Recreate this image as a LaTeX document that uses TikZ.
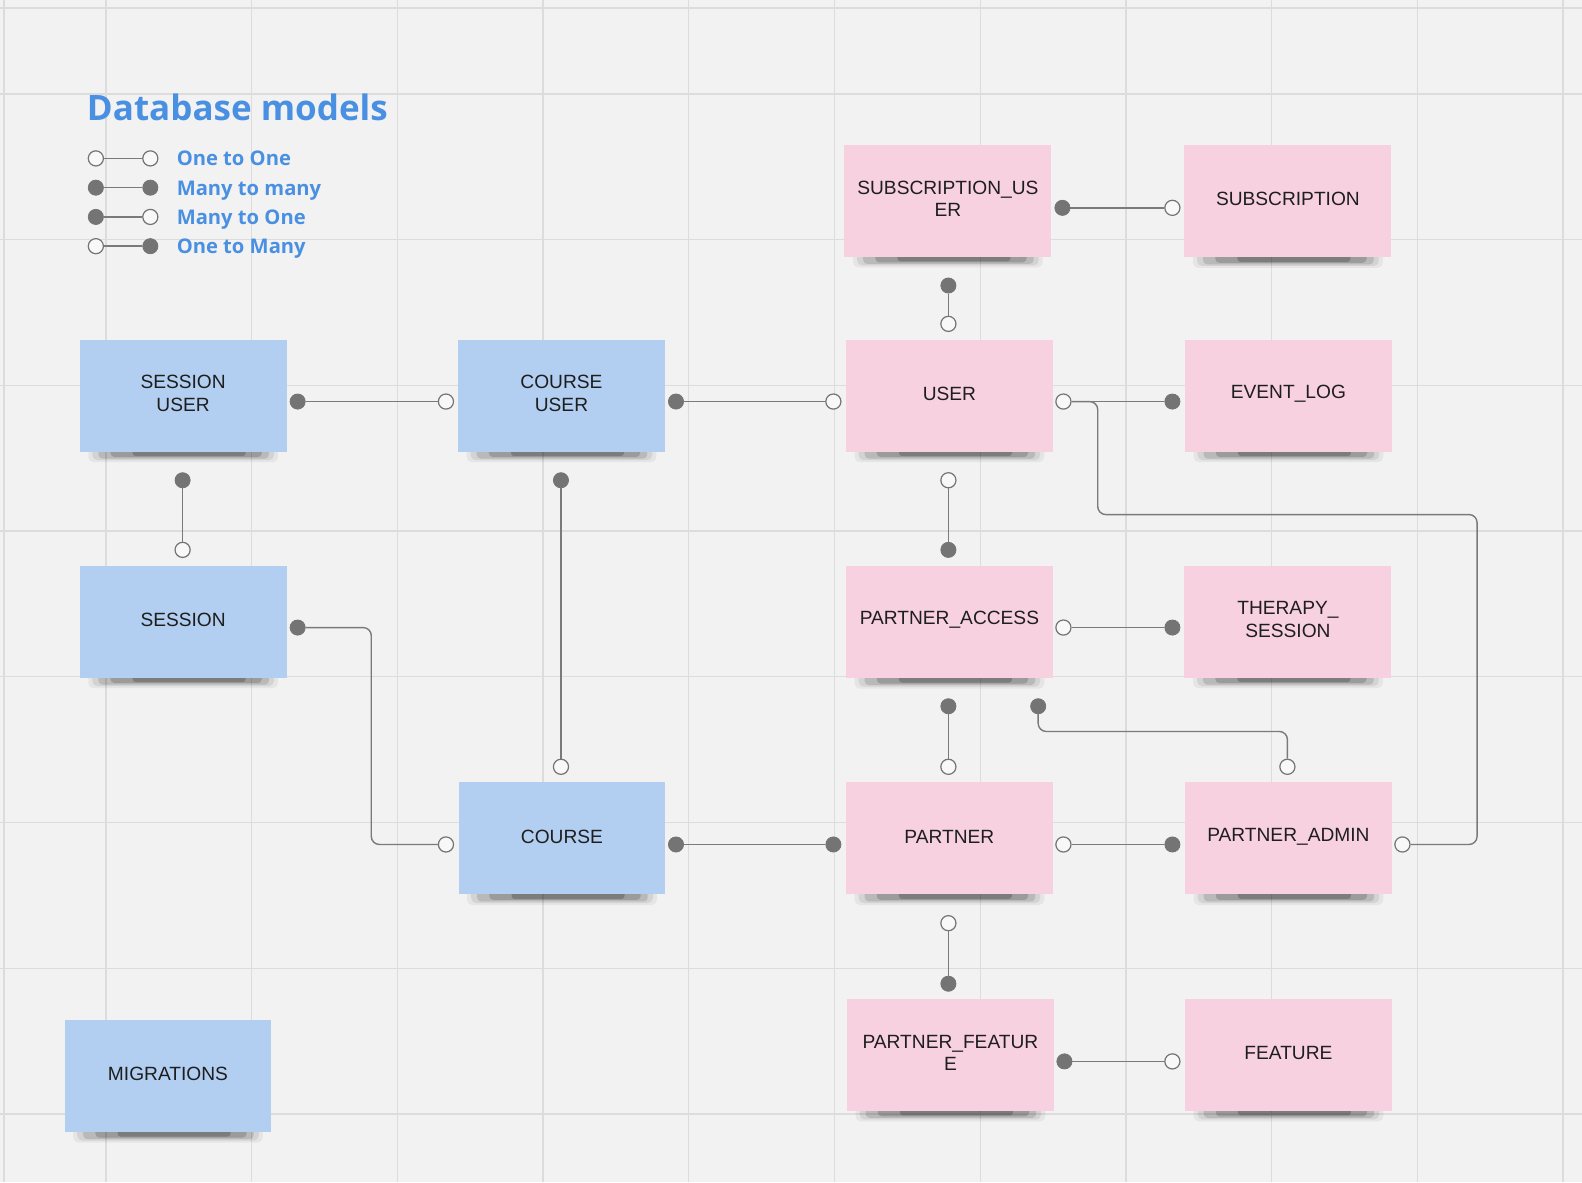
\documentclass[tikz,border=0pt]{standalone}
\usepackage{fontspec}
\setmainfont{Liberation Sans}
\newfontfamily\osfont{Open Sans}
\definecolor{bg}{HTML}{F2F2F2}
\definecolor{gridc}{HTML}{DCDCDC}
\definecolor{bluenote}{HTML}{B2CEF1}
\definecolor{pinknote}{HTML}{F7D1DF}
\definecolor{dotc}{HTML}{747474}
\definecolor{linec}{HTML}{7A7A7A}
\definecolor{titleblue}{HTML}{4A90E2}
\definecolor{notetext}{HTML}{1E1E1E}
\tikzset{
  note/.style={minimum width=205, minimum height=111, inner sep=0, draw=none},
  notetxt/.style={font=\fontsize{19}{22}\selectfont, align=center, text=notetext, inner sep=0},
  fd/.style={circle, fill=dotc, draw=dotc, line width=0.8, inner sep=0, minimum size=15},
  od/.style={circle, fill=white!50!bg, draw=dotc, line width=1.2, inner sep=0, minimum size=15},
  conn/.style={draw=linec, line width=1.4, rounded corners=8},
  legtxt/.style={font=\osfont\bfseries\fontsize{20}{24}\selectfont, text=titleblue, anchor=base west, inner sep=0}
}
\newcommand\sticky[5]{%
  \fill[black, opacity=.05, rounded corners=5] (#2-94,#3+50) rectangle (#2+94,#3+66);
  \fill[black, opacity=.08, rounded corners=5] (#2-90,#3+50) rectangle (#2+90,#3+64);
  \fill[black, opacity=.12, rounded corners=4] (#2-84,#3+50) rectangle (#2+85,#3+62.5);
  \fill[black, opacity=.16, rounded corners=4] (#2-72,#3+50) rectangle (#2+78,#3+61);
  \fill[black, opacity=.20, rounded corners=3] (#2-50,#3+50) rectangle (#2+62,#3+60);
  \node[note, fill=#4] (#1) at (#2,#3) {};
  \node[notetxt] (#1-t) at (#2,#3-2) {#5};
}
\begin{document}
\begin{tikzpicture}[x=1pt, y=-1pt]
\fill[bg] (0,0) rectangle (1568,1172);
\useasboundingbox (0,0) rectangle (1568,1172);
% grid
\foreach \gx in {4,105,249.5,394,538.3,682.7,827.1,971.5,1115.9,1260.4,1404.8,1549.2}
  \draw[gridc, line width=1.3] (\gx,0) -- (\gx,1172);
\foreach \gy in {8,93.2,237.6,382,526.4,670.8,815.2,959.7,1104.1}
  \draw[gridc, line width=1.3] (0,\gy) -- (1568,\gy);

% title and legend
\node[font=\osfont\bfseries\fontsize{34.7}{40}\selectfont, text=titleblue, anchor=base west, inner sep=0] (title) at (86,119) {Database models};

\node[od] (la1) at (95,157) {}; \node[od] (la2) at (149,157) {};
\draw[linec, line width=1.4] (la1) -- (la2);
\node[legtxt] (lt1) at (175,164.5) {One to One};
\node[fd] (lb1) at (95,186) {}; \node[fd] (lb2) at (149,186) {};
\draw[linec, line width=1.4] (lb1) -- (lb2);
\node[legtxt] (lt2) at (175,193.5) {Many to many};
\node[fd] (lc1) at (95,215) {}; \node[od] (lc2) at (149,215) {};
\draw[linec, line width=1.4] (lc1) -- (lc2);
\node[legtxt] (lt3) at (175,222.5) {Many to One};
\node[od] (ld1) at (95,244) {}; \node[fd] (ld2) at (149,244) {};
\draw[linec, line width=1.4] (ld1) -- (ld2);
\node[legtxt] (lt4) at (175,251.5) {One to Many};

% sticky notes
\sticky{su}{181.5}{392}{bluenote}{SESSION\\USER}
\sticky{cu}{556.5}{392}{bluenote}{COURSE\\USER}
\sticky{user}{941}{392}{pinknote}{USER}
\sticky{evl}{1277}{392}{pinknote}{EVENT\_LOG}
\sticky{subu}{939.5}{199}{pinknote}{SUBSCRIPTION\_US\\ER}
\sticky{sub}{1276.5}{199.5}{pinknote}{SUBSCRIPTION}
\sticky{sess}{181.5}{616}{bluenote}{SESSION}
\sticky{pacc}{941}{616.5}{pinknote}{PARTNER\_ACCESS}
\sticky{ther}{1276.5}{616}{pinknote}{THERAPY\_\\SESSION}
\sticky{course}{557}{831}{bluenote}{COURSE}
\sticky{partner}{941}{831}{pinknote}{PARTNER}
\sticky{padm}{1277}{831}{pinknote}{PARTNER\_ADMIN}
\sticky{pfeat}{942}{1045.5}{pinknote}{PARTNER\_FEATUR\\E}
\sticky{feat}{1277}{1045.5}{pinknote}{FEATURE}
\sticky{migr}{166.5}{1066.5}{bluenote}{MIGRATIONS}

% connector end dots
\node[fd] (a1) at (295,398) {};  \node[od] (a2) at (442,398) {};
\node[fd] (b1) at (670,398) {};  \node[od] (b2) at (826,398) {};
\node[fd] (c1) at (1053,206) {}; \node[od] (c2) at (1162,206) {};
\node[fd] (d1) at (940,283) {};  \node[od] (d2) at (940,321) {};
\node[od] (e1) at (1054,398) {}; \node[fd] (e2) at (1162,398) {};
\node[od] (e3) at (1390,837) {};
\node[fd] (f1) at (181,476) {};  \node[od] (f2) at (181,545) {};
\node[fd] (g1) at (556,476) {};  \node[od] (g2) at (556,760) {};
\node[od] (h1) at (940,476) {};  \node[fd] (h2) at (940,545) {};
\node[fd] (i1) at (295,622) {};  \node[od] (i2) at (442,837) {};
\node[od] (j1) at (1054,622) {}; \node[fd] (j2) at (1162,622) {};
\node[fd] (k1) at (940,700) {};  \node[od] (k2) at (940,760) {};
\node[fd] (l1) at (1029,700) {}; \node[od] (l2) at (1276,760) {};
\node[fd] (m1) at (670,837) {};  \node[fd] (m2) at (826,837) {};
\node[od] (n1) at (1054,837) {}; \node[fd] (n2) at (1162,837) {};
\node[od] (o1) at (940,915) {};  \node[fd] (o2) at (940,975) {};
\node[fd] (p1) at (1055,1052) {}; \node[od] (p2) at (1162,1052) {};

% connectors
\draw[conn] (a1) -- (a2);
\draw[conn] (b1) -- (b2);
\draw[conn] (c1) -- (c2);
\draw[conn] (d1) -- (d2);
\draw[conn] (e1) -- (e2);
\draw[conn] (e1.east) -- (1088,398) -- (1088,510) -- (1464,510) -- (1464,837) -- (e3.east);
\draw[conn] (f1) -- (f2);
\draw[conn] (g1) -- (g2);
\draw[conn] (h1) -- (h2);
\draw[conn] (i1.east) -- (368,622) -- (368,837) -- (i2.west);
\draw[conn] (j1) -- (j2);
\draw[conn] (k1) -- (k2);
\draw[conn] (l1.south) -- (1029,725) -- (1276,725) -- (l2.north);
\draw[conn] (m1) -- (m2);
\draw[conn] (n1) -- (n2);
\draw[conn] (o1) -- (o2);
\draw[conn] (p1) -- (p2);
\end{tikzpicture}
\end{document}
